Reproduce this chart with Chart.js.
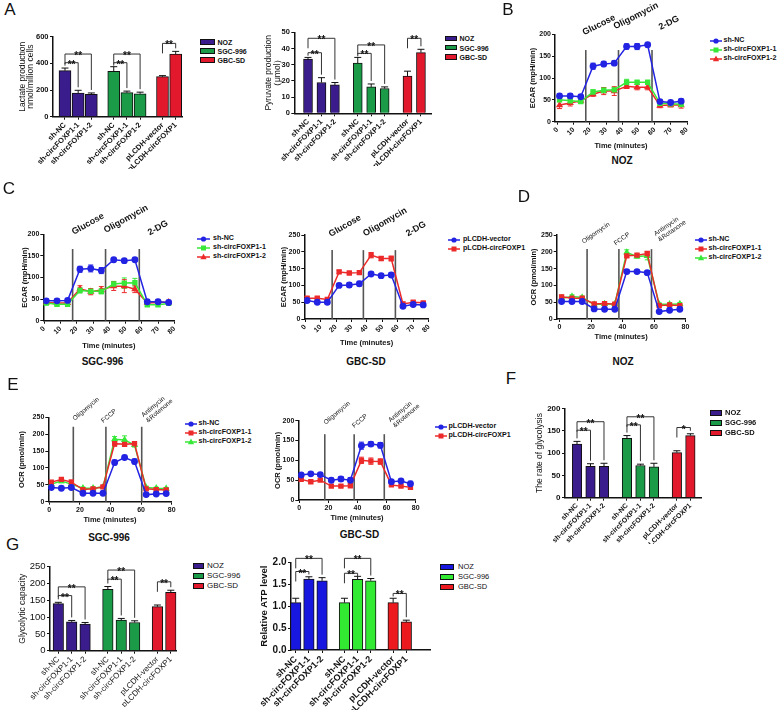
<!DOCTYPE html>
<html>
<head>
<meta charset="utf-8">
<script src="https://cdn.jsdelivr.net/npm/chart.js@4.4.0/dist/chart.umd.min.js"></script>
<style>
  body { margin: 0; background: #fff; width: 778px; height: 710px; position: relative; overflow: hidden;
         font-family: "Liberation Sans", Arial, Helvetica, sans-serif; color: #111; }
  canvas { position: absolute; }
  .t { position: absolute; white-space: nowrap; line-height: 1; }
</style>
</head>
<body>
<script>
const FONT = '"Liberation Sans", Arial, Helvetica, sans-serif';

// ---- bar panels (A, F, G) ----
const barLabels = ['sh-NC', 'sh-circFOXP1-1', 'sh-circFOXP1-2', 'sh-NC', 'sh-circFOXP1-1', 'sh-circFOXP1-2', 'pLCDH-vector', 'pLCDH-circFOXP1'];
const cellLines = ['NOZ', 'SGC-996', 'GBC-SD'];
const groupSizes = [3, 3, 2];

const lactate = [345, 178, 168, 340, 180, 172, 300, 470];
const lactateErr = [20, 20, 10, 35, 12, 12, 8, 20];
const pyruvate = [33.5, 19, 17.5, 31, 16.3, 15.3, 23, 37.5];
const pyruvateErr = [1, 3, 1.5, 3.5, 1.8, 1, 3, 2];
const glycRate = [120, 70, 70, 133, 72, 69, 101, 139];
const glycRateErr = [6, 6, 7, 6, 3, 8, 4, 4];
const glycCap = [140, 86, 79, 183, 91, 84, 131, 174];
const glycCapErr = [4, 4, 5, 8, 5, 5, 5, 6];
const atp = [1.08, 1.62, 1.58, 1.08, 1.61, 1.58, 1.08, 0.64];
const atpErr = [0.1, 0.05, 0.07, 0.1, 0.07, 0.05, 0.1, 0.04];

// [bar a, bar b, bracket height in y units, mark]
const sigLactate = [[0, 1, 405, '**'], [0, 2, 470, '**'], [3, 4, 405, '**'], [3, 5, 470, '**'], [6, 7, 550, '**']];
const sigPyruvate = [[0, 1, 37.4, '**'], [0, 2, 46.3, '**'], [3, 4, 37, '**'], [3, 5, 42.2, '**'], [6, 7, 46.3, '**']];
const sigRate = [[0, 1, 151, '**'], [0, 2, 170, '**'], [3, 4, 163, '**'], [3, 5, 181, '**'], [6, 7, 157, '*']];
const sigCap = [[0, 1, 164, '**'], [0, 2, 190, '**'], [3, 4, 213, '**'], [3, 5, 240, '**'], [6, 7, 205, '**']];
const sigAtp = [[0, 1, 1.79, '**'], [0, 2, 2.09, '**'], [3, 4, 1.75, '**'], [3, 5, 2.09, '**'], [6, 7, 1.29, '**']];

// ---- Seahorse panels (B-E) ----
const timeMin = [1.3, 7.9, 14.4, 22.0, 28.6, 35.1, 42.7, 49.2, 55.7, 63.3, 69.9, 76.4];
const injections = [17.5, 37.7, 58.4];
const injectionsE = [15.7, 37, 60.4];
const shLabels = ['sh-NC', 'sh-circFOXP1-1', 'sh-circFOXP1-2'];
const oeLabels = ['pLCDH-vector', 'pLCDH-circFOXP1'];

const ecarNozNC  = [59, 59, 57, 127, 132, 134, 172, 172, 176, 46, 44, 47];
const ecarNozKD1 = [50, 48, 46, 68, 72, 73, 90, 90, 90, 42, 41, 40];
const ecarNozKD2 = [38, 43, 48, 63, 70, 70, 81, 79, 79, 37, 38, 38];
const ecarNozNCErr  = [5, 5, 4, 7, 6, 5, 6, 7, 5, 4, 4, 5];
const ecarNozKD1Err = [4, 4, 4, 5, 6, 6, 7, 5, 5, 4, 3, 3];
const ecarNozKD2Err = [8, 7, 5, 5, 8, 10, 5, 6, 6, 5, 4, 7];

const ecarSgcNC  = [46, 46, 47, 119, 121, 116, 141, 139, 141, 44, 44, 42];
const ecarSgcKD1 = [41, 38, 38, 70, 68, 68, 85, 87, 88, 37, 37, 40];
const ecarSgcKD2 = [42, 41, 41, 74, 67, 71, 80, 80, 73, 41, 42, 43];
const ecarSgcNCErr  = [4, 4, 4, 7, 8, 7, 5, 5, 4, 4, 4, 5];
const ecarSgcKD1Err = [4, 4, 5, 6, 6, 6, 6, 12, 10, 4, 4, 4];
const ecarSgcKD2Err = [4, 4, 4, 7, 7, 8, 10, 15, 8, 4, 4, 4];

const ecarGbcVec  = [55, 50, 50, 100, 101, 105, 134, 129, 131, 38, 43, 42];
const ecarGbcCirc = [62, 62, 58, 140, 137, 138, 190, 180, 180, 45, 50, 48];
const ecarGbcVecErr  = [5, 5, 6, 5, 7, 7, 5, 6, 6, 5, 4, 4];
const ecarGbcCircErr = [5, 4, 5, 5, 4, 5, 8, 6, 7, 5, 4, 4];

const ocrNozNC  = [52, 52, 52, 30, 29, 29, 141, 141, 138, 22, 26, 29];
const ocrNozKD1 = [66, 62, 62, 45, 46, 44, 188, 190, 195, 40, 42, 40];
const ocrNozKD2 = [62, 67, 64, 43, 45, 45, 198, 186, 188, 44, 44, 45];
const ocrNozNCErr  = [4, 4, 4, 3, 3, 3, 6, 4, 5, 3, 3, 3];
const ocrNozKD1Err = [5, 4, 4, 4, 4, 4, 5, 4, 5, 4, 3, 4];
const ocrNozKD2Err = [4, 5, 4, 3, 3, 3, 8, 5, 12, 4, 4, 4];

const ocrSgcNC  = [42, 40, 42, 25, 25, 25, 116, 131, 119, 21, 23, 24];
const ocrSgcKD1 = [58, 66, 58, 36, 38, 44, 172, 170, 172, 38, 36, 35];
const ocrSgcKD2 = [52, 61, 52, 40, 40, 44, 185, 183, 168, 42, 40, 39];
const ocrSgcNCErr  = [4, 5, 4, 3, 3, 3, 7, 4, 7, 3, 3, 3];
const ocrSgcKD1Err = [5, 4, 6, 3, 3, 4, 8, 5, 6, 4, 4, 4];
const ocrSgcKD2Err = [5, 5, 8, 3, 3, 3, 8, 12, 6, 4, 3, 3];

const ocrGbcVec  = [63, 66, 64, 50, 53, 50, 137, 141, 138, 46, 48, 41];
const ocrGbcCirc = [52, 46, 50, 35, 35, 36, 100, 98, 97, 38, 35, 32];
const ocrGbcVecErr  = [3, 3, 4, 5, 6, 6, 9, 6, 7, 4, 3, 6];
const ocrGbcCircErr = [3, 3, 3, 3, 3, 4, 8, 8, 7, 3, 3, 3];

const purple = '#3a1c8c', dgreen = '#1b9a48', dred = '#e2192c';
const bblue = '#1717df', bgreen = '#33ea33', bred = '#ec1a1e';
const blue = '#2323e3', lime = '#38e838', red = '#ec2a2a';

Chart.defaults.font.family = FONT;

// ---------- helpers ----------
function text(s, x, y, size, o = {}) {
  const d = document.createElement('div');
  d.className = 't';
  d.innerHTML = s;
  d.style.left = x + 'px';
  d.style.top = y + 'px';
  d.style.fontSize = size + 'px';
  d.style.fontWeight = o.bold ? 'bold' : 'normal';
  d.style.transform = `translate(${o.ax ?? -50}%, -50%) rotate(${o.rot || 0}deg)`;
  if (o.align) d.style.textAlign = o.align;
  document.body.appendChild(d);
}

function frame(r, o) {
  const cv = document.createElement('canvas');
  document.body.appendChild(cv);
  const L = Math.round(r.l - o.yw), T = Math.round(r.t - o.pt);
  const W = Math.ceil(r.r + o.pr - L), H = Math.ceil(r.b + o.xh - T);
  cv.width = W; cv.height = H;
  cv.style.left = L + 'px'; cv.style.top = T + 'px';
  cv.style.width = W + 'px'; cv.style.height = H + 'px';
  return { cv, yw: r.l - L, pt: r.t - T, pr: W - (r.r - L), xh: H - (r.b - T) };
}

function axis(size, bold, tick, pad) {
  return {
    grid: { display: true, drawOnChartArea: false, drawTicks: true, tickLength: tick, color: '#111', lineWidth: 1, offset: false },
    border: { display: true, color: '#111', width: 1.5 },
    ticks: { color: '#111', padding: pad, autoSkip: false, font: { size, weight: bold ? 'bold' : 'normal' } }
  };
}

function barPositions() {
  const p = [];
  let x = 0;
  groupSizes.forEach(n => { for (let i = 0; i < n; i++) { p.push(x); x += 1; } x += 0.7; });
  return p;
}
function groupOf(i) {
  let s = 0;
  for (let g = 0; g < groupSizes.length; g++) { s += groupSizes[g]; if (i < s) return g; }
  return 0;
}

function drawErr(chart, upOnly) {
  const ctx = chart.ctx, ys = chart.scales.y;
  chart.data.datasets.forEach((ds, di) => {
    const meta = chart.getDatasetMeta(di);
    ctx.save();
    ctx.strokeStyle = upOnly ? '#111' : ds.borderColor;
    ctx.lineWidth = 1;
    const w = upOnly ? 3.5 : 2.5;
    meta.data.forEach((el, i) => {
      const v = ds.data[i].y, e = ds.errs[i];
      const yt = ys.getPixelForValue(v + e), yb = ys.getPixelForValue(upOnly ? v : v - e);
      ctx.beginPath();
      ctx.moveTo(el.x, yb); ctx.lineTo(el.x, yt);
      ctx.moveTo(el.x - w, yt); ctx.lineTo(el.x + w, yt);
      if (!upOnly) { ctx.moveTo(el.x - w, yb); ctx.lineTo(el.x + w, yb); }
      ctx.stroke();
    });
    ctx.restore();
  });
}

function drawSig(chart, sig) {
  const ctx = chart.ctx, ys = chart.scales.y;
  const ds = chart.data.datasets[0], els = chart.getDatasetMeta(0).data;
  const top = i => ys.getPixelForValue(ds.data[i].y + ds.errs[i]) - 3;
  ctx.save();
  ctx.strokeStyle = '#333'; ctx.lineWidth = 1; ctx.fillStyle = '#111';
  ctx.font = 'bold 10px ' + FONT; ctx.textAlign = 'center'; ctx.textBaseline = 'alphabetic';
  sig.forEach(([a, b, lvl, mark]) => {
    const y = ys.getPixelForValue(lvl), xa = els[a].x, xb = els[b].x;
    const ya = Math.max(y + 3, Math.min(top(a), y + 10)), yb = Math.max(y + 3, top(b));
    ctx.beginPath();
    ctx.moveTo(xa, ya); ctx.lineTo(xa, y); ctx.lineTo(xb, y); ctx.lineTo(xb, yb);
    ctx.stroke();
    ctx.fillText(mark, (xa + xb) / 2, y + 5);
  });
  ctx.restore();
}

function drawInj(chart, cfg) {
  const ctx = chart.ctx, xs = chart.scales.x, ys = chart.scales.y;
  ctx.save();
  ctx.strokeStyle = '#555'; ctx.lineWidth = 1.6;
  cfg.inj.forEach(t => {
    const x = xs.getPixelForValue(t);
    ctx.beginPath(); ctx.moveTo(x, ys.getPixelForValue(0)); ctx.lineTo(x, ys.getPixelForValue(cfg.injTop)); ctx.stroke();
  });
  ctx.restore();
}

function extras(cfg) {
  return {
    id: 'extras',
    beforeDatasetsDraw(chart) { if (cfg.inj) { drawInj(chart, cfg); drawErr(chart, false); } },
    afterDatasetsDraw(chart) { if (cfg.sig) { drawErr(chart, true); drawSig(chart, cfg.sig); } }
  };
}

function barChart(rect, o) {
  const f = frame(rect, o);
  const pos = barPositions();
  const xa = axis(o.xsize, o.xbold, 3, 1), ya = axis(o.ysize, o.ybold, 3, 1.5);
  return new Chart(f.cv, {
    type: 'bar',
    data: { datasets: [{
      data: pos.map((x, i) => ({ x, y: o.values[i] })), errs: o.errs,
      backgroundColor: pos.map((_, i) => o.colors[groupOf(i)]),
      borderColor: '#111', borderWidth: 1, barThickness: o.bw
    }] },
    options: {
      responsive: false, animation: false, events: [],
      layout: { padding: { left: 0, top: f.pt, right: f.pr, bottom: 0 } },
      plugins: { legend: { display: false }, tooltip: { enabled: false } },
      scales: {
        x: { ...xa, type: 'linear', offset: false, min: o.xmin, max: o.xmax,
             afterFit: s => { s.height = f.xh; },
             afterBuildTicks: s => { s.ticks = pos.map(v => ({ value: v })); },
             ticks: { ...xa.ticks, minRotation: 45, maxRotation: 45, callback: (v, i) => barLabels[i] } },
        y: { ...ya, min: 0, max: o.ymax,
             afterFit: s => { s.width = f.yw; },
             ticks: { ...ya.ticks, stepSize: o.step, callback: o.fmt || (v => v) },
             title: { display: true, text: o.title, color: '#111', padding: 0,
                      font: { size: o.tsize, weight: o.tbold ? 'bold' : 'normal', lineHeight: o.tlh } } }
      }
    },
    plugins: [extras({ sig: o.sig })]
  });
}

function lineChart(rect, o) {
  const f = frame(rect, o);
  const xa = axis(7, true, 3, 1), ya = axis(7, true, 3, 1);
  return new Chart(f.cv, {
    type: 'line',
    data: { datasets: o.series.map(s => ({
      label: s.label, data: timeMin.map((t, i) => ({ x: t, y: s.values[i] })), errs: s.errs,
      borderColor: s.color, backgroundColor: s.color, pointBorderColor: s.color,
      pointStyle: s.shape, pointRadius: 2.7, borderWidth: 1.5, tension: 0
    })) },
    options: {
      responsive: false, animation: false, events: [],
      layout: { padding: { left: 0, top: f.pt, right: f.pr, bottom: 0 } },
      plugins: { legend: { display: false }, tooltip: { enabled: false } },
      scales: {
        x: { ...xa, type: 'linear', min: o.xmin, max: 80,
             afterFit: s => { s.height = f.xh; },
             ticks: { ...xa.ticks, stepSize: o.xstep, includeBounds: false, minRotation: o.rot, maxRotation: o.rot },
             title: { display: true, text: 'Time (minutes)', color: '#111', padding: 0, font: { size: 7.5, weight: 'bold', lineHeight: 1.2 } } },
        y: { ...ya, min: 0, max: o.ymax,
             afterFit: s => { s.width = f.yw; },
             ticks: { ...ya.ticks, stepSize: 50 },
             title: { display: true, text: o.ytitle, color: '#111', padding: 0, font: { size: 7.5, weight: 'bold', lineHeight: 1.2 } } }
      }
    },
    plugins: [extras({ inj: o.inj, injTop: o.injTop })]
  });
}

function barLegend(x0, x1, tx, ys, colors, size, bold, bh) {
  cellLines.forEach((name, i) => {
    const b = document.createElement('div');
    b.style.cssText = `position:absolute;left:${x0}px;top:${ys[i] - bh / 2}px;width:${x1 - x0}px;height:${bh}px;background:${colors[i]};border:1px solid #111;box-sizing:border-box`;
    document.body.appendChild(b);
    text(name, tx, ys[i], size, { bold, ax: 0 });
  });
}

function lineLegend(x0, x1, tx, ys, series) {
  series.forEach((s, i) => {
    const w = x1 - x0, c = w / 2;
    const mk = s.shape === 'circle' ? `<circle cx="${c}" cy="5" r="2.6"/>`
      : s.shape === 'rect' ? `<rect x="${c - 2.5}" y="2.5" width="5" height="5"/>`
      : `<polygon points="${c},1.6 ${c - 3.1},7.2 ${c + 3.1},7.2"/>`;
    document.body.insertAdjacentHTML('beforeend',
      `<svg width="${w}" height="10" style="position:absolute;left:${x0}px;top:${ys[i] - 5}px" fill="${s.color}">` +
      `<line x1="0" y1="5" x2="${w}" y2="5" stroke="${s.color}" stroke-width="1.5"/>${mk}</svg>`);
    text(s.label, tx, ys[i], 7.1, { bold: true, ax: 0 });
  });
}

function injLabels(labels, centers, size, bold, rot) {
  labels.forEach((s, i) => text(s, centers[i][0], centers[i][1], size, { bold, rot, align: 'left' }));
}

// ---------- A ----------
barChart({ l: 53, t: 36.7, r: 182, b: 116.7 }, {
  yw: 34, pt: 8, pr: 4, xh: 52, values: lactate, errs: lactateErr, colors: [purple, dgreen, dred],
  ymax: 600, step: 200, title: ['Lactate production', 'nmol/million cells'], tsize: 8.5, tlh: 0.9,
  xmin: -0.91, xmax: 8.88, bw: 12, sig: sigLactate, xsize: 7.5, xbold: true, ysize: 7.5, ybold: true
});
barLegend(200, 215, 217.5, [41.7, 51, 60.3], [purple, dgreen, dred], 7, true, 6);

barChart({ l: 294.3, t: 32.3, r: 431.7, b: 113.3 }, {
  yw: 30.7, pt: 8, pr: 4, xh: 52, values: pyruvate, errs: pyruvateErr, colors: [purple, dgreen, dred],
  ymax: 50, step: 10, title: ['Pyruvate production', '（μmol）'], tsize: 8.5, tlh: 1.1,
  xmin: -1.02, xmax: 9.2, bw: 9, sig: sigPyruvate, xsize: 7.5, xbold: true, ysize: 7.5, ybold: true
});
barLegend(445, 457, 459.5, [38.3, 47.7, 57], [purple, dgreen, dred], 7, true, 5.5);

// ---------- B ----------
const seriesB = [
  { label: shLabels[0], values: ecarNozNC, errs: ecarNozNCErr, color: blue, shape: 'circle' },
  { label: shLabels[1], values: ecarNozKD1, errs: ecarNozKD1Err, color: lime, shape: 'rect' },
  { label: shLabels[2], values: ecarNozKD2, errs: ecarNozKD2Err, color: red, shape: 'triangle' }
];
lineChart({ l: 555, t: 34.3, r: 687, b: 121.7 }, {
  yw: 27, pt: 6, pr: 8, xh: 27.8, series: seriesB, xmin: -1.5, xstep: 10, rot: 45,
  ymax: 200, ytitle: 'ECAR (mpH/min)', inj: injections, injTop: 164
});
lineLegend(710, 722, 723.5, [40.7, 50, 59.3], seriesB);
injLabels(['Glucose', 'Oligomycin', '2-DG'], [[599, 25], [635.5, 15.5], [668.5, 23]], 9, true, -27);
text('NOZ', 622, 161, 10, { bold: true });

// ---------- C ----------
const seriesC1 = [
  { label: shLabels[0], values: ecarSgcNC, errs: ecarSgcNCErr, color: blue, shape: 'circle' },
  { label: shLabels[1], values: ecarSgcKD1, errs: ecarSgcKD1Err, color: lime, shape: 'rect' },
  { label: shLabels[2], values: ecarSgcKD2, errs: ecarSgcKD2Err, color: red, shape: 'triangle' }
];
lineChart({ l: 43.3, t: 234.3, r: 174.5, b: 320.7 }, {
  yw: 23, pt: 6, pr: 8, xh: 28.8, series: seriesC1, xmin: -0.5, xstep: 10, rot: 45,
  ymax: 200, ytitle: 'ECAR (mpH/min)', inj: injections, injTop: 166
});
lineLegend(197, 210, 213, [239.3, 248, 256.7], seriesC1);
injLabels(['Glucose', 'Oligomycin', '2-DG'], [[88, 224], [126, 219], [157.5, 227.5]], 9, true, -29);
text('SGC-996', 102.5, 362, 10, { bold: true });

const seriesC2 = [
  { label: oeLabels[0], values: ecarGbcVec, errs: ecarGbcVecErr, color: blue, shape: 'circle' },
  { label: oeLabels[1], values: ecarGbcCirc, errs: ecarGbcCircErr, color: red, shape: 'rect' }
];
lineChart({ l: 304.3, t: 235, r: 428.8, b: 319 }, {
  yw: 25.6, pt: 6, pr: 8, xh: 27.5, series: seriesC2, xmin: -0.5, xstep: 10, rot: 45,
  ymax: 250, ytitle: 'ECAR (mpH/min)', inj: injections, injTop: 205
});
lineLegend(448, 460, 463, [240.3, 249], seriesC2);
injLabels(['Glucose', 'Oligomycin', '2-DG'], [[345, 225.5], [384.5, 222], [416, 228.5]], 9, true, -30);
text('GBC-SD', 366, 362, 10, { bold: true });

// ---------- D ----------
const seriesD = [
  { label: shLabels[0], values: ocrNozNC, errs: ocrNozNCErr, color: blue, shape: 'circle' },
  { label: shLabels[1], values: ocrNozKD1, errs: ocrNozKD1Err, color: red, shape: 'rect' },
  { label: shLabels[2], values: ocrNozKD2, errs: ocrNozKD2Err, color: lime, shape: 'triangle' }
];
lineChart({ l: 556.7, t: 235, r: 685.5, b: 319 }, {
  yw: 28, pt: 6, pr: 8, xh: 22, series: seriesD, xmin: -1.8, xstep: 20, rot: 0,
  ymax: 250, ytitle: 'OCR (pmol/min)', inj: injections, injTop: 208
});
lineLegend(695, 707, 708.5, [240, 249, 258], seriesD);
injLabels(['Oligomycin', 'FCCP', 'Antimycin<br>&amp;Rotanone'], [[596, 232.5], [622, 239], [670, 227.5]], 6.5, false, -35);
text('NOZ', 623, 361.5, 10, { bold: true });

// ---------- E ----------
const seriesE1 = [
  { label: shLabels[0], values: ocrSgcNC, errs: ocrSgcNCErr, color: blue, shape: 'circle' },
  { label: shLabels[1], values: ocrSgcKD1, errs: ocrSgcKD1Err, color: red, shape: 'rect' },
  { label: shLabels[2], values: ocrSgcKD2, errs: ocrSgcKD2Err, color: lime, shape: 'triangle' }
];
lineChart({ l: 48.3, t: 417.3, r: 171.7, b: 501.7 }, {
  yw: 31, pt: 6, pr: 8, xh: 22.3, series: seriesE1, xmin: -0.65, xstep: 20, rot: 0,
  ymax: 250, ytitle: 'OCR (pmol/min)', inj: injectionsE, injTop: 222
});
lineLegend(185, 197, 198.5, [424.3, 433.3, 442.3], seriesE1);
injLabels(['Oligomycin', 'FCCP', 'Antimycin<br>&amp;Rotenone'], [[86, 408.5], [109, 415.5], [156.5, 407.5]], 6.5, false, -40);
text('SGC-996', 109, 537.5, 10, { bold: true });

const seriesE2 = [
  { label: oeLabels[0], values: ocrGbcVec, errs: ocrGbcVecErr, color: blue, shape: 'circle' },
  { label: oeLabels[1], values: ocrGbcCirc, errs: ocrGbcCircErr, color: red, shape: 'rect' }
];
lineChart({ l: 298.3, t: 420.7, r: 415.7, b: 500 }, {
  yw: 25.3, pt: 6, pr: 8, xh: 21.5, series: seriesE2, xmin: -0.7, xstep: 20, rot: 0,
  ymax: 200, ytitle: 'OCR (pmol/min)', inj: injections, injTop: 166
});
lineLegend(435, 447, 448.5, [426.7, 435.7], seriesE2);
injLabels(['Oligomycin', 'FCCP', 'Antimycin<br>&amp;Rotenone'], [[337, 412.5], [359.5, 421], [403.5, 412.5]], 6.5, false, -40);
text('GBC-SD', 359.5, 535, 10, { bold: true });

// ---------- F ----------
barChart({ l: 565, t: 408.3, r: 701.7, b: 497.7 }, {
  yw: 30.5, pt: 8, pr: 4, xh: 46, values: glycRate, errs: glycRateErr, colors: [purple, dgreen, dred],
  ymax: 200, step: 50, title: 'The rate of glycolysis', tsize: 8.5, tlh: 1.2,
  xmin: -0.89, xmax: 9.24, bw: 9.5, sig: sigRate, xsize: 7, xbold: true, ysize: 8, ybold: true
});
barLegend(710, 722, 725, [413.3, 423.3, 433.3], [purple, dgreen, dred], 7.5, true, 6);

// ---------- G ----------
barChart({ l: 50, t: 566.7, r: 176.7, b: 650.7 }, {
  yw: 32.1, pt: 8, pr: 4, xh: 56, values: glycCap, errs: glycCapErr, colors: [purple, dgreen, dred],
  ymax: 250, step: 50, title: 'Glycolytic capacity', tsize: 8.5, tlh: 1.2,
  xmin: -0.62, xmax: 8.84, bw: 10.5, sig: sigCap, xsize: 8, xbold: false, ysize: 9.5, ybold: false
});
barLegend(193, 204, 207, [566, 575.7, 585.5], [purple, dgreen, dred], 8, false, 6);

barChart({ l: 291, t: 562.3, r: 430, b: 650 }, {
  yw: 32, pt: 16, pr: 4, xh: 60, values: atp, errs: atpErr, colors: [bblue, bgreen, bred],
  ymax: 2, step: 0.5, fmt: v => v.toFixed(1), title: 'Relative ATP level', tsize: 9.5, tbold: true, tlh: 1.2,
  xmin: -0.36, xmax: 10.2, bw: 10.5, sig: sigAtp, xsize: 9, xbold: true, ysize: 10, ybold: true
});
barLegend(440, 454, 458, [566.7, 576.7, 586.7], [bblue, bgreen, bred], 7.5, false, 6);

// ---------- panel letters ----------
[['A', 10, 9], ['B', 508, 9], ['C', 9, 187.5], ['D', 524, 196], ['E', 13, 384], ['F', 511, 377.5], ['G', 12.5, 544]]
  .forEach(([s, x, y]) => text(s, x, y, 17));
</script>
</body>
</html>
